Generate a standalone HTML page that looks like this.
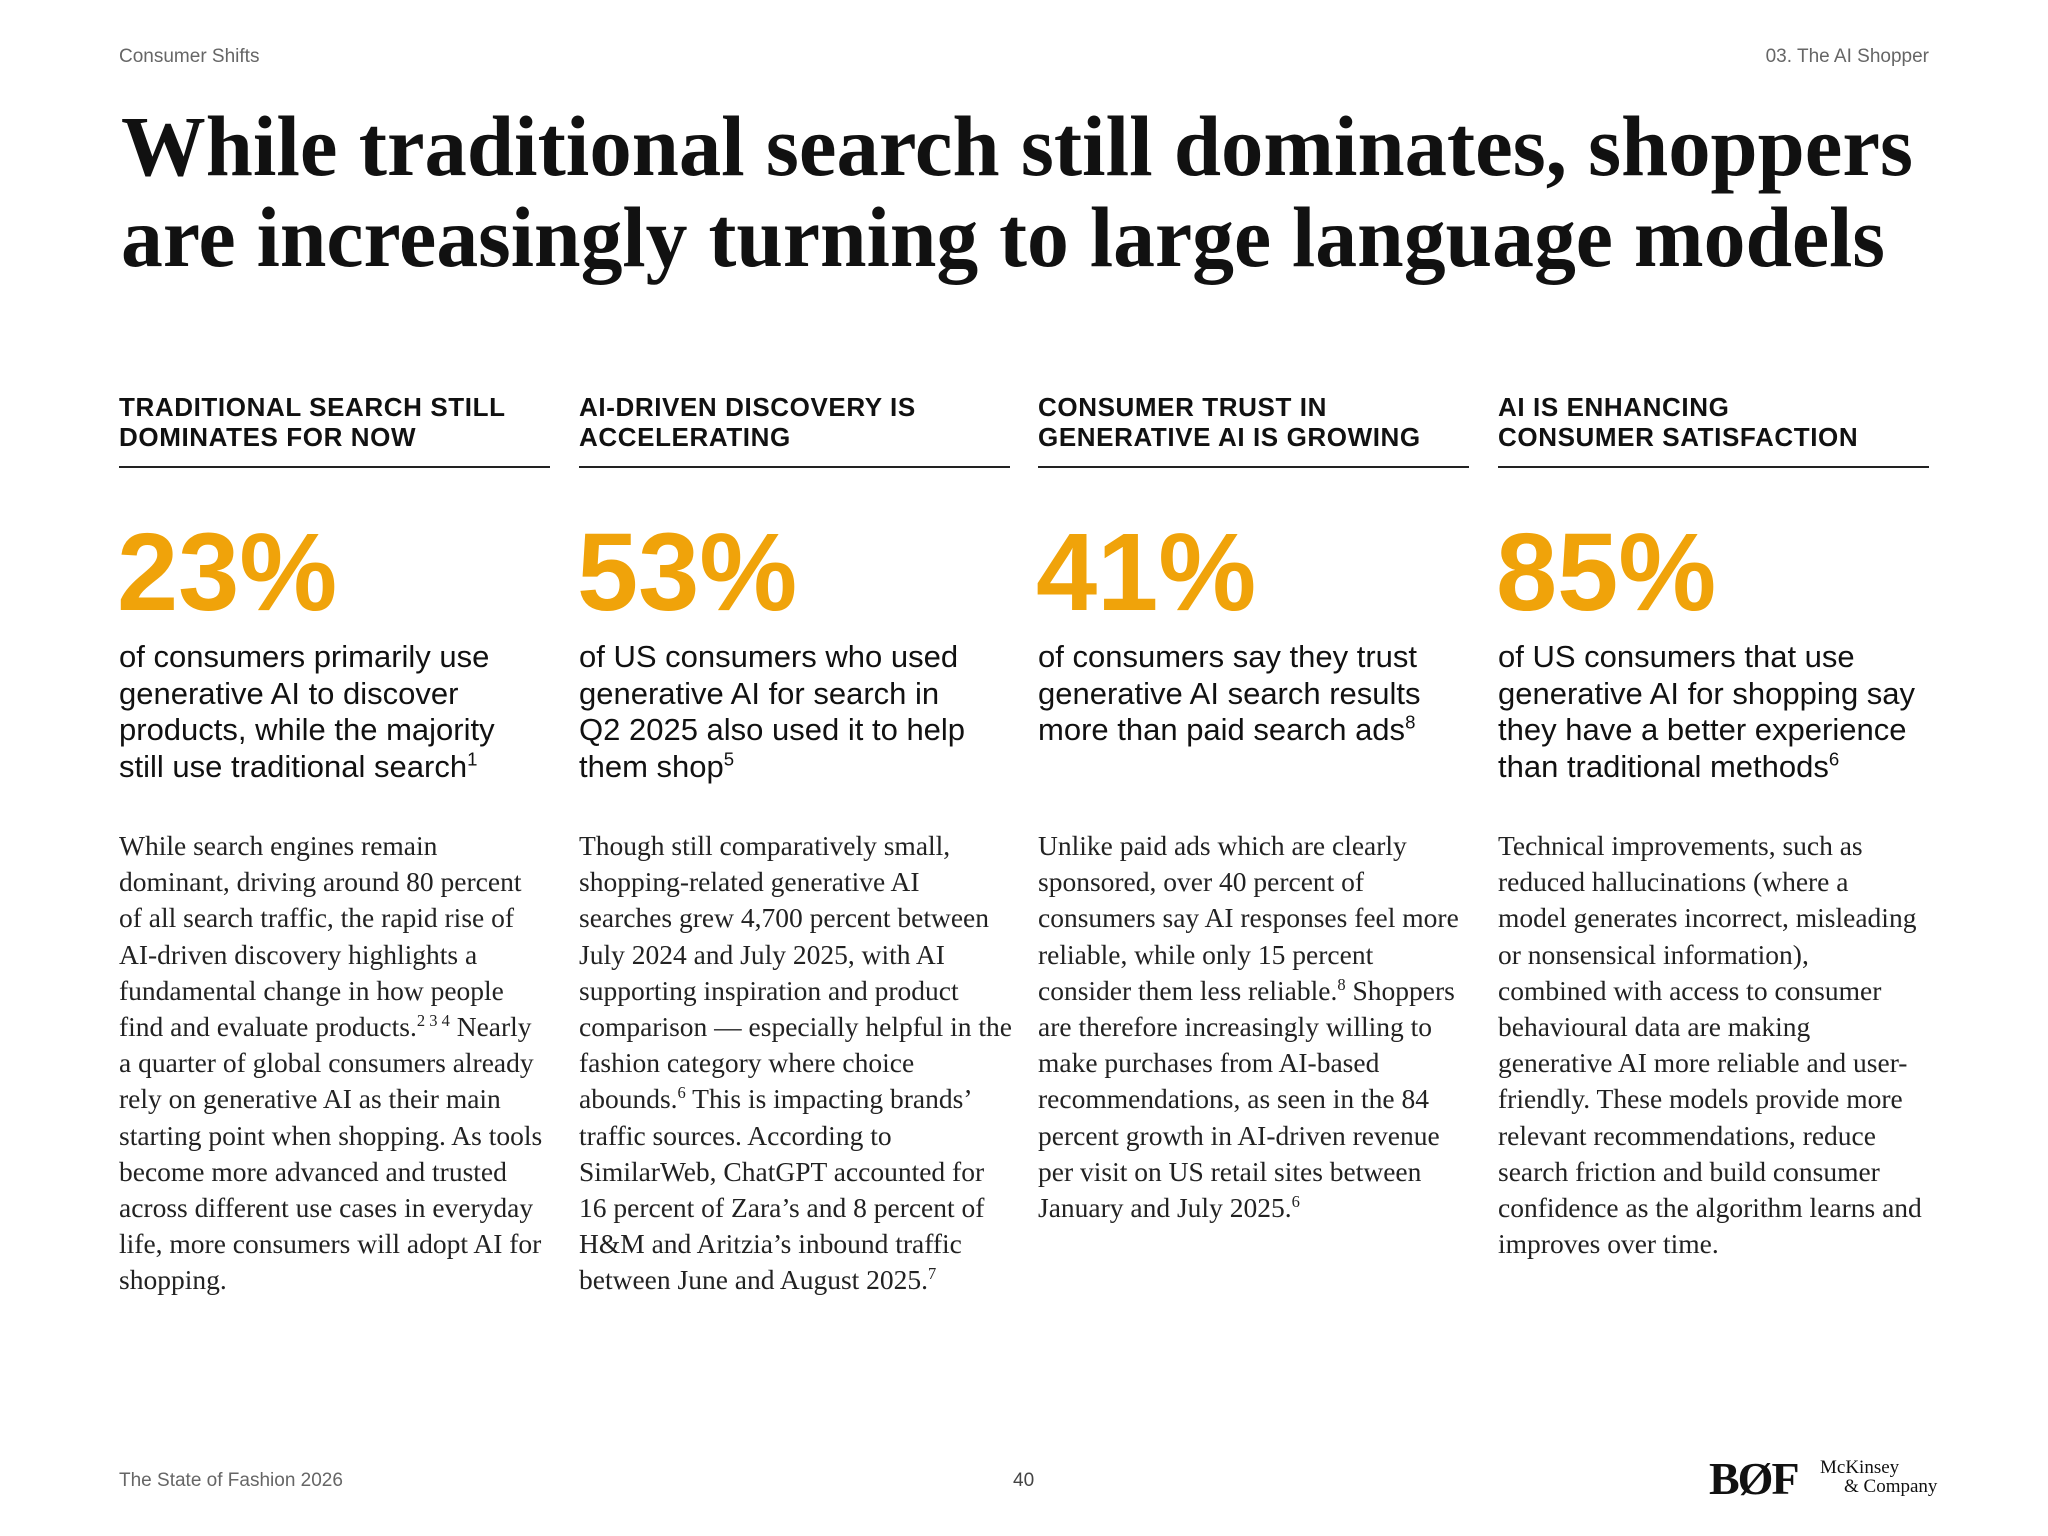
<!DOCTYPE html>
<html><head><meta charset="utf-8">
<style>
body{margin:0;width:2048px;height:1536px;background:#fff;position:relative;overflow:hidden;font-family:"Liberation Sans",sans-serif;color:#111;}
.a{position:absolute;white-space:nowrap;}
.hdr{font-size:19px;color:#666;}
.sub{font-size:26px;font-weight:bold;line-height:30px;letter-spacing:0.6px;}
.rule{position:absolute;height:1.5px;background:#222;width:431px;top:466px;}
.big{font-size:110px;font-weight:bold;color:#f0a30a;line-height:110px;}
.desc{font-size:31px;line-height:36.5px;color:#111;}
.body{font-family:"Liberation Serif",serif;font-size:27.5px;line-height:36.2px;color:#222;}
sup{font-size:60%;line-height:0;vertical-align:super;}
</style></head><body>
<div class="a hdr" style="left:119px;top:46px;">Consumer Shifts</div>
<div class="a hdr" style="right:119px;top:46px;">03. The AI Shopper</div>
<svg class="a" style="left:0;top:0" width="2048" height="300">
<text x="121" y="175" font-family="Liberation Serif,serif" font-weight="bold" font-size="86" fill="#111" textLength="1792" lengthAdjust="spacingAndGlyphs">While traditional search still dominates, shoppers</text>
<text x="121" y="266" font-family="Liberation Serif,serif" font-weight="bold" font-size="86" fill="#111" textLength="1764" lengthAdjust="spacingAndGlyphs">are increasingly turning to large language models</text>
</svg>

<div class="a sub" style="left:119px;top:392px;">TRADITIONAL SEARCH STILL<br>DOMINATES FOR NOW</div>
<div class="a sub" style="left:579px;top:392px;">AI-DRIVEN DISCOVERY IS<br>ACCELERATING</div>
<div class="a sub" style="left:1038px;top:392px;">CONSUMER TRUST IN<br>GENERATIVE AI IS GROWING</div>
<div class="a sub" style="left:1498px;top:392px;">AI IS ENHANCING<br>CONSUMER SATISFACTION</div>
<div class="rule" style="left:119px"></div>
<div class="rule" style="left:579px"></div>
<div class="rule" style="left:1038px"></div>
<div class="rule" style="left:1498px"></div>

<div class="a big" style="left:117px;top:518px;">23%</div>
<div class="a big" style="left:577px;top:518px;">53%</div>
<div class="a big" style="left:1036px;top:518px;">41%</div>
<div class="a big" style="left:1496px;top:518px;">85%</div>

<div class="a desc" style="left:119px;top:639px;">of consumers primarily use<br>generative AI to discover<br>products, while the majority<br>still use traditional search<sup>1</sup></div>
<div class="a desc" style="left:579px;top:639px;">of US consumers who used<br>generative AI for search in<br>Q2 2025 also used it to help<br>them shop<sup>5</sup></div>
<div class="a desc" style="left:1038px;top:639px;">of consumers say they trust<br>generative AI search results<br>more than paid search ads<sup>8</sup></div>
<div class="a desc" style="left:1498px;top:639px;">of US consumers that use<br>generative AI for shopping say<br>they have a better experience<br>than traditional methods<sup>6</sup></div>

<div class="a body" style="left:119px;top:828px;">While search engines remain<br>dominant, driving around 80 percent<br>of all search traffic, the rapid rise of<br>AI-driven discovery highlights a<br>fundamental change in how people<br>find and evaluate products.<sup>2 3 4</sup> Nearly<br>a quarter of global consumers already<br>rely on generative AI as their main<br>starting point when shopping. As tools<br>become more advanced and trusted<br>across different use cases in everyday<br>life, more consumers will adopt AI for<br>shopping.</div>
<div class="a body" style="left:579px;top:828px;">Though still comparatively small,<br>shopping-related generative AI<br>searches grew 4,700 percent between<br>July 2024 and July 2025, with AI<br>supporting inspiration and product<br>comparison — especially helpful in the<br>fashion category where choice<br>abounds.<sup>6</sup> This is impacting brands’<br>traffic sources. According to<br>SimilarWeb, ChatGPT accounted for<br>16 percent of Zara’s and 8 percent of<br>H&amp;M and Aritzia’s inbound traffic<br>between June and August 2025.<sup>7</sup></div>
<div class="a body" style="left:1038px;top:828px;">Unlike paid ads which are clearly<br>sponsored, over 40 percent of<br>consumers say AI responses feel more<br>reliable, while only 15 percent<br>consider them less reliable.<sup>8</sup> Shoppers<br>are therefore increasingly willing to<br>make purchases from AI-based<br>recommendations, as seen in the 84<br>percent growth in AI-driven revenue<br>per visit on US retail sites between<br>January and July 2025.<sup>6</sup></div>
<div class="a body" style="left:1498px;top:828px;">Technical improvements, such as<br>reduced hallucinations (where a<br>model generates incorrect, misleading<br>or nonsensical information),<br>combined with access to consumer<br>behavioural data are making<br>generative AI more reliable and user-<br>friendly. These models provide more<br>relevant recommendations, reduce<br>search friction and build consumer<br>confidence as the algorithm learns and<br>improves over time.</div>

<div class="a hdr" style="left:119px;top:1470px;">The State of Fashion 2026</div>
<div class="a hdr" style="left:1013px;top:1470px;color:#444;">40</div>
<div class="a" style="left:1709px;top:1452px;font-family:'Liberation Serif',serif;font-weight:bold;font-size:46px;color:#111;letter-spacing:-2px;">BØF</div>
<div class="a" style="left:1820px;top:1458px;font-family:'Liberation Serif',serif;font-size:19px;line-height:19px;color:#111;">McKinsey<br><span style="padding-left:24px">&amp; Company</span></div>
</body></html>
